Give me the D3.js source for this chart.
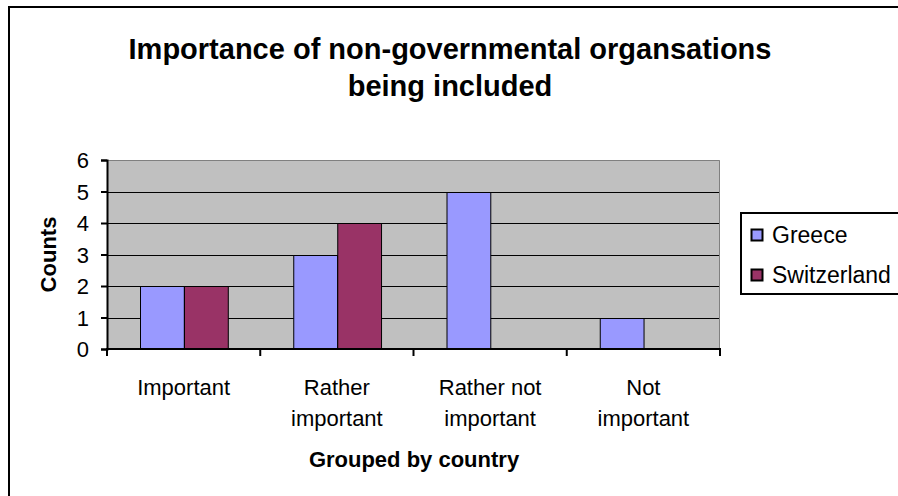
<!DOCTYPE html>
<html>
<head>
<meta charset="utf-8">
<script src="https://cdn.jsdelivr.net/npm/d3@7"></script>
<style>
  body { margin: 0; background: #fff; }
  svg { display: block; font-family: "Liberation Sans", Arial, sans-serif; }
</style>
</head>
<body>
<svg width="898" height="496"></svg>
<script>
// chart data
var categories = [["Important"], ["Rather", "important"], ["Rather not", "important"], ["Not", "important"]];
var series = ["Greece", "Switzerland"];
var greece = [2, 3, 5, 1];
var switzerland = [2, 4, 0, 0];
var yTicks = [0, 1, 2, 3, 4, 5, 6];
var colors = ["#9999ff", "#993366"];

var svg = d3.select("svg"),
    width = +svg.attr("width"),
    height = +svg.attr("height");

// plot area
var plotLeft = 107, plotRight = 720, plotTop = 160, plotBottom = 349;

// outer chart border (runs off the picture at right and bottom)
svg.append("rect")
    .attr("x", 9).attr("y", 7)
    .attr("width", 920).attr("height", 520)
    .attr("fill", "#fff")
    .attr("stroke", "#000")
    .attr("stroke-width", 2);

// title
svg.append("text")
    .attr("text-anchor", "middle")
    .style("font-weight", "bold")
    .style("font-size", "29px")
    .selectAll("tspan")
    .data(["Importance of non-governmental organsations", "being included"])
    .enter().append("tspan")
        .attr("x", 450)
        .attr("y", function (d, i) { return 59 + i * 37; })
        .text(function (d) { return d; });

var idx = d3.range(categories.length);

var x0 = d3.scaleBand()
    .domain(idx)
    .range([plotLeft, plotRight]);

var x1 = d3.scaleBand()
    .domain(series)
    .range([0, x0.bandwidth()])
    .paddingInner(0)
    .paddingOuter(0.75);

var y = d3.scaleLinear()
    .domain([0, 6])
    .range([plotBottom, plotTop]);

// grey plot background
svg.append("rect")
    .attr("x", plotLeft).attr("y", plotTop)
    .attr("width", plotRight - plotLeft).attr("height", plotBottom - plotTop)
    .attr("fill", "#c0c0c0");

// top and right border of the plot area
svg.append("path")
    .attr("d", "M" + plotLeft + "," + (plotTop + 0.5) + "H" + (plotRight - 0.5) + "V" + plotBottom)
    .attr("fill", "none")
    .attr("stroke", "#808080")
    .attr("stroke-width", 1);

// gridlines
svg.append("g")
    .selectAll("line")
    .data(yTicks.filter(function (d) { return d > 0 && d < 6; }))
    .enter().append("line")
        .attr("x1", plotLeft).attr("x2", plotRight - 1)
        .attr("y1", function (d) { return Math.round(y(d)) + 0.5; })
        .attr("y2", function (d) { return Math.round(y(d)) + 0.5; })
        .attr("stroke", "#000");

// bars
var rows = idx.map(function (i) {
  return [{ s: series[0], v: greece[i] }, { s: series[1], v: switzerland[i] }];
});

svg.append("g")
    .selectAll("g")
    .data(rows)
    .enter().append("g")
        .attr("transform", function (d, i) { return "translate(" + x0(i) + ",0)"; })
    .selectAll("rect")
    .data(function (d) { return d.filter(function (b) { return b.v > 0; }); })
    .enter().append("rect")
        .attr("x", function (d) { return Math.round(x1(d.s)) + 0.5; })
        .attr("y", function (d) { return Math.round(y(d.v)) + 0.5; })
        .attr("width", x1.bandwidth())
        .attr("height", function (d) { return Math.round(y(0)) - Math.round(y(d.v)); })
        .attr("fill", function (d) { return colors[series.indexOf(d.s)]; })
        .attr("stroke", "#000")
        .attr("stroke-width", 1);

// y axis
var yAxis = svg.append("g")
    .attr("transform", "translate(" + plotLeft + ",0)")
    .call(d3.axisLeft(y).tickValues(yTicks).tickFormat(d3.format("d")).tickSize(6).tickPadding(12));
yAxis.select(".domain").attr("stroke", "#000").attr("stroke-width", 2);
yAxis.selectAll(".tick line").attr("stroke-width", 2);
yAxis.selectAll("text")
    .style("font-size", "22px")
    .attr("fill", "#000")
    .attr("dy", "0.36em");

// x axis
var xAxis = svg.append("g")
    .attr("transform", "translate(0," + plotBottom + ")");
xAxis.append("line")
    .attr("x1", plotLeft - 1).attr("x2", plotRight + 1)
    .attr("stroke", "#000").attr("stroke-width", 2);
xAxis.selectAll(".xt")
    .data(idx.concat([categories.length]))
    .enter().append("line")
        .attr("class", "xt")
        .attr("x1", function (d) { return d < categories.length ? x0(d) : plotRight; })
        .attr("x2", function (d) { return d < categories.length ? x0(d) : plotRight; })
        .attr("y1", 0).attr("y2", 7)
        .attr("stroke", "#000").attr("stroke-width", 2);

xAxis.selectAll(".xl")
    .data(idx)
    .enter().append("text")
        .attr("class", "xl")
        .attr("text-anchor", "middle")
        .style("font-size", "22px")
        .each(function (i) {
          d3.select(this).selectAll("tspan")
            .data(categories[i])
            .enter().append("tspan")
              .attr("x", x0(i) + x0.bandwidth() / 2)
              .attr("y", function (d, j) { return 46 + j * 31; })
              .text(function (d) { return d; });
        });

// axis titles
svg.append("text")
    .attr("x", 414).attr("y", 467)
    .attr("text-anchor", "middle")
    .style("font-weight", "bold")
    .style("font-size", "22px")
    .text("Grouped by country");

svg.append("text")
    .attr("transform", "translate(56," + ((plotTop + plotBottom) / 2) + ") rotate(-90)")
    .attr("text-anchor", "middle")
    .style("font-weight", "bold")
    .style("font-size", "22px")
    .text("Counts");

// legend
var legend = svg.append("g");
legend.append("rect")
    .attr("x", 741).attr("y", 213)
    .attr("width", 170).attr("height", 81)
    .attr("fill", "#fff")
    .attr("stroke", "#000")
    .attr("stroke-width", 2);

var items = legend.selectAll(".item")
    .data(series)
    .enter().append("g")
        .attr("class", "item")
        .attr("transform", function (d, i) { return "translate(751," + (229 + i * 40) + ")"; });
items.append("rect")
    .attr("x", 0.5).attr("y", 0.5)
    .attr("width", 11).attr("height", 11)
    .attr("fill", function (d, i) { return colors[i]; })
    .attr("stroke", "#000")
    .attr("stroke-width", 2);
items.append("text")
    .attr("x", 21).attr("y", 14)
    .style("font-size", "23px")
    .text(function (d) { return d; });
</script>
</body>
</html>
